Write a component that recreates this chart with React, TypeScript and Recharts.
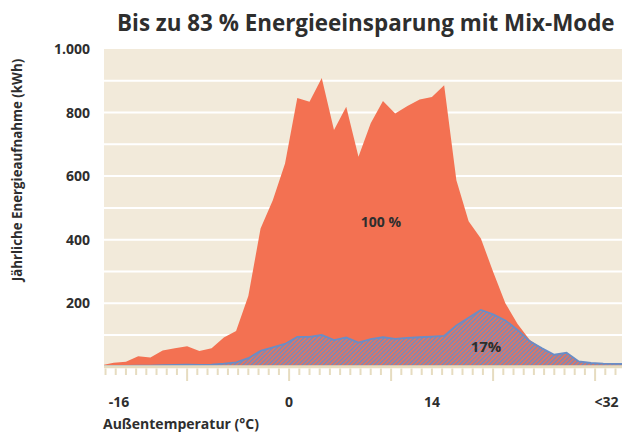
import React from 'react';
import { AreaChart, Area, XAxis, YAxis, CartesianGrid } from 'recharts';

const FONT = '"Open Sans", "Noto Sans", sans-serif';
const RED = '#f37152';
const BLUE = '#6a8dc6';
const BG = '#f2eada';
const AXIS = '#e6dcc0';
const TXT = '#2e2e2e';

const title = 'Bis zu 83 % Energieeinsparung mit Mix-Mode';
const yTitle = 'Jährliche Energieaufnahme (kWh)';
const xTitle = 'Außentemperatur (°C)';
const fullLabel = '100 %';
const mixLabel = '17%';

// outside temperature (°C) for each data point
const temps = [
  -18.4, -17.2, -16, -14.8, -13.6, -12.4, -11.2, -10, -8.8, -7.6, -6.4, -5.2, -4, -2.8, -1.6,
  -0.4, 0.8, 2, 3.2, 4.4, 5.6, 6.8, 8, 9.2, 10.4, 11.6, 12.8, 14, 15.2, 16.4, 17.6, 18.8, 20,
  21.2, 22.4, 23.6, 24.8, 26, 27.2, 28.4, 29.6, 30.8, 32, 33.2,
];
// annual energy intake without Mix-Mode (kWh) = 100 %
const fullEnergy = [
  5, 13, 16, 33, 29, 51, 58, 65, 50, 58, 92, 113, 223, 435, 524, 640, 846, 834, 909, 745, 818,
  661, 766, 836, 797, 821, 841, 849, 886, 587, 458, 404, 299, 200, 135, 84, 58, 38, 44, 17, 12,
  10, 9, 9,
];
// annual energy intake with Mix-Mode (kWh) = 17 %
const mixEnergy = [
  2, 3, 3, 4, 4, 5, 6, 7, 6, 7, 10, 14, 27, 50, 61, 72, 94, 94, 100, 84, 92, 76, 87, 93, 88, 91,
  93, 95, 97, 130, 154, 179, 165, 146, 116, 80, 58, 38, 44, 17, 12, 10, 9, 9,
];

const yTicks = [0, 100, 200, 300, 400, 500, 600, 700, 800, 900, 1000];
const yGridValues = [100, 200, 300, 400, 500, 600, 700, 800, 900];
const yLabelTicks = [200, 400, 600, 800, 1000];
const yLabels = ['200', '400', '600', '800', '1.000'];
const xMinorTicks = [
  -18, -17, -16, -15, -14, -13, -12, -11, -10, -9, -8, -7, -6, -5, -4, -3, -2, -1, 0, 1, 2, 3, 4,
  5, 6, 7, 8, 9, 10, 11, 12, 13, 14, 15, 16, 17, 18, 19, 20, 21, 22, 23, 24, 25, 26, 27, 28, 29,
  30, 31, 32, 33,
];
const xMajorTicks = [-10, 0, 10, 20, 30];
const xLabelTicks = [-16, 0, 14, 32];
const xLabels = ['-16', '0', '14', '<32'];
const xLabelShift = [-7, 0, 0, -9];

const rows = temps.map((t, i) => ({ t, full: fullEnergy[i], mix: mixEnergy[i] }));

const XTick = (props: any) => {
  const { x, payload } = props;
  const v = payload.value;
  const major = xMajorTicks.includes(v);
  const idx = xLabelTicks.indexOf(v);
  return (
    <g>
      <line x1={x} x2={x} y1={368.5} y2={major ? 381 : 375} stroke={AXIS} strokeWidth={2} />
      {idx >= 0 && (
        <text x={x + xLabelShift[idx]} y={407} textAnchor="middle" fontFamily={FONT} fontWeight={700} fontSize={14} fill={TXT}>
          {xLabels[idx]}
        </text>
      )}
    </g>
  );
};

const YTick = (props: any) => {
  const { y, payload } = props;
  const idx = yLabelTicks.indexOf(payload.value);
  if (idx < 0) return <g />;
  return (
    <text x={90} y={y} dy={5} textAnchor="end" fontFamily={FONT} fontWeight={700} fontSize={14} fill={TXT}>
      {yLabels[idx]}
    </text>
  );
};

export default function App() {
  return (
    <div style={{ position: 'absolute', left: 0, top: 0, width: 622, height: 433, overflow: 'hidden', background: '#fff' }}>
      <AreaChart width={640} height={433} data={rows} margin={{ top: 49, right: 14.3, bottom: 26.2, left: 0 }}>
        <defs>
          <pattern id="hatch" patternUnits="userSpaceOnUse" width="3" height="3" patternTransform="rotate(45)">
            <rect x="0" y="0" width="3" height="3" fill={RED} />
            <line x1="0.75" y1="0" x2="0.75" y2="3" stroke={BLUE} strokeWidth="1.5" />
          </pattern>
        </defs>
        <CartesianGrid fill={BG} fillOpacity={1} stroke="#ffffff" strokeWidth={2} vertical={false} horizontalValues={yGridValues} />
        <XAxis
          dataKey="t"
          type="number"
          domain={[-18.15, 33]}
          allowDataOverflow
          ticks={xMinorTicks}
          interval={0}
          tick={<XTick />}
          tickLine={false}
          axisLine={{ stroke: AXIS, strokeWidth: 3 }}
          height={40}
        />
        <YAxis
          type="number"
          domain={[0, 1000]}
          ticks={yTicks}
          interval={0}
          width={104}
          tick={<YTick />}
          axisLine={false}
          tickLine={false}
        />
        <Area type="linear" dataKey="full" fill={RED} fillOpacity={1} stroke="none" isAnimationActive={false} dot={false} activeDot={false} />
        <Area type="linear" dataKey="mix" fill="url(#hatch)" fillOpacity={1} stroke={BLUE} strokeWidth={1.8} isAnimationActive={false} dot={false} activeDot={false} />
      </AreaChart>
      <svg width={622} height={433} style={{ position: 'absolute', left: 0, top: 0, pointerEvents: 'none' }}>
        <text x={117} y={31} fontFamily={FONT} fontWeight={700} fontSize={22.4} fill={TXT}>{title}</text>
        <text x={0} y={0} transform="translate(22,170) rotate(-90)" textAnchor="middle" fontFamily={FONT} fontWeight={700} fontSize={13.3} fill={TXT}>{yTitle}</text>
        <text x={103} y={429} fontFamily={FONT} fontWeight={700} fontSize={14} fill={TXT}>{xTitle}</text>
        <text x={381} y={227} textAnchor="middle" fontFamily={FONT} fontWeight={700} fontSize={14} fill={TXT}>{fullLabel}</text>
        <text x={486} y={352} textAnchor="middle" fontFamily={FONT} fontWeight={700} fontSize={15} fill={TXT}>{mixLabel}</text>
      </svg>
    </div>
  );
}
